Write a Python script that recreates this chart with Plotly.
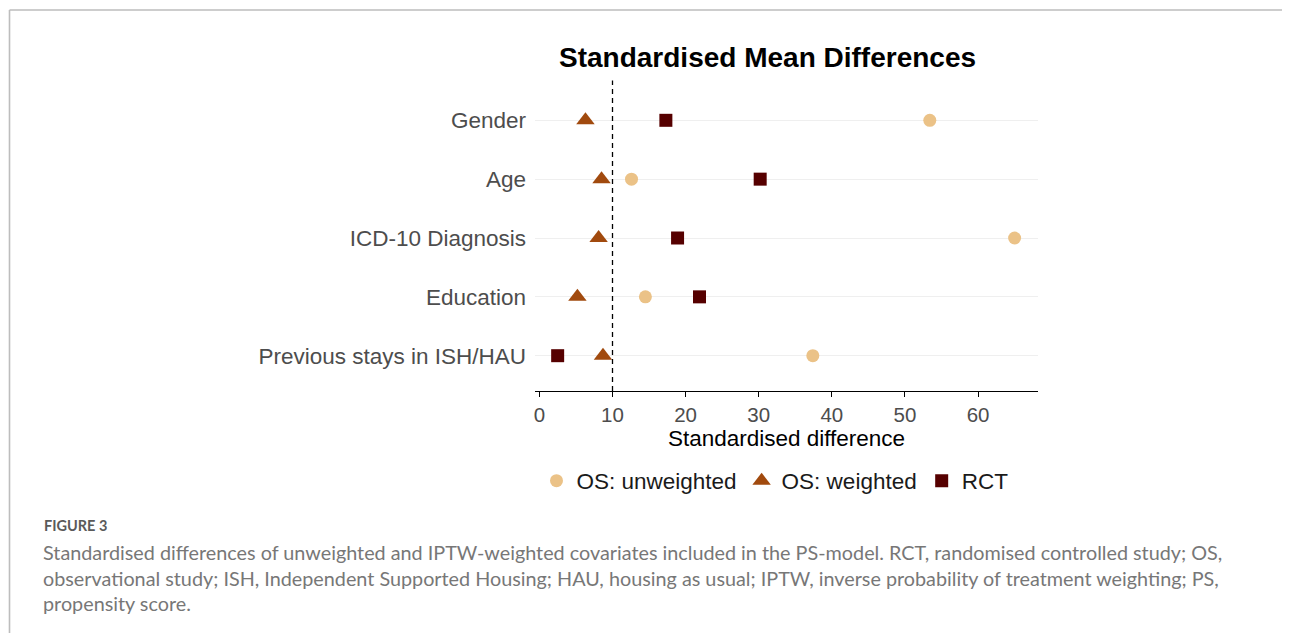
import plotly.graph_objects as go

categories = ["Previous stays in ISH/HAU", "Education", "ICD-10 Diagnosis", "Age", "Gender"]
os_unweighted = [37.4, 14.5, 65.0, 12.6, 53.4]
os_weighted = [8.7, 5.2, 8.1, 8.5, 6.3]
rct = [2.5, 21.9, 18.9, 30.2, 17.3]
x_ticks = [0, 10, 20, 30, 40, 50, 60]

OFF = 8  # page body margin
W, H = 1290 - OFF, 633 - OFF
L, R, T, B = 535, 1038, 85, 391  # plot area in page pixels


def px(x):
    return (x - L) / (R - L)


def py(y):
    return (B - y) / (B - T)


fig = go.Figure()
fig.add_trace(go.Scatter(x=os_unweighted, y=categories, mode="markers", name="OS: unweighted",
                         marker=dict(symbol="circle", size=13, color="#EBC287")))
fig.add_trace(go.Scatter(x=os_weighted, y=categories, mode="markers", name="OS: weighted",
                         marker=dict(symbol="triangle-up", size=16, color="#A14A0E")))
fig.add_trace(go.Scatter(x=rct, y=categories, mode="markers", name="RCT",
                         marker=dict(symbol="square", size=13, color="#560000")))

shapes = [
    dict(type="line", xref="x", yref="paper", x0=10, x1=10, y0=0, y1=1.015,
         line=dict(color="black", width=1.3, dash="5px,4px")),
    dict(type="line", xref="paper", yref="paper", x0=px(9.5), x1=px(1290), y0=py(10), y1=py(10),
         line=dict(color="#bdbdbd", width=1.6)),
    dict(type="line", xref="paper", yref="paper", x0=px(9.5), x1=px(9.5), y0=py(10), y1=py(640),
         line=dict(color="#bdbdbd", width=1.6)),
]

caption = ("Standardised differences of unweighted and IPTW-weighted covariates included in the PS-model. RCT, randomised controlled study; OS,<br>"
           "observational study; ISH, Independent Supported Housing; HAU, housing as usual; IPTW, inverse probability of treatment weighting; PS,<br>"
           "propensity score.")

annotations = [
    dict(text="<b>Standardised Mean Differences</b>", xref="paper", yref="paper",
         x=px(767), y=py(57), xanchor="center", yanchor="middle", showarrow=False,
         font=dict(family="Liberation Sans, Arial", size=28, color="black")),
    dict(text="<b>FIGURE 3</b>", xref="paper", yref="paper",
         x=px(42), y=py(525), xanchor="left", yanchor="middle", showarrow=False,
         font=dict(family="Lato, Open Sans", size=14.5, color="#5a5a5a")),
    dict(text=caption, xref="paper", yref="paper", align="left",
         x=px(41), y=py(538), xanchor="left", yanchor="top", showarrow=False,
         font=dict(family="Lato, Open Sans", size=19.8, color="#777777")),
]

fig.update_layout(
    width=W, height=H,
    margin=dict(l=L - OFF, r=W - (R - OFF), t=T - OFF, b=H - (B - OFF), pad=0),
    plot_bgcolor="white", paper_bgcolor="white",
    showlegend=True,
    legend=dict(orientation="h", x=px(775), y=py(481), xanchor="center", yanchor="middle",
                font=dict(family="Liberation Sans, Arial", size=22.5, color="#1a1a1a"),
                itemsizing="trace", bgcolor="rgba(0,0,0,0)", traceorder="normal"),
    shapes=shapes,
    annotations=annotations,
    font=dict(family="Liberation Sans, Arial"),
)

fig.update_xaxes(range=[-0.6, 68.2], tickvals=x_ticks, showgrid=False, zeroline=False,
                 showline=True, linecolor="black", linewidth=1.3,
                 ticks="outside", ticklen=5, tickcolor="black", tickwidth=1.2,
                 tickfont=dict(size=20.5, color="#4d4d4d", family="Liberation Sans, Arial"),
                 title=dict(text="Standardised difference", standoff=4,
                            font=dict(size=22.5, color="black", family="Liberation Sans, Arial")))
fig.update_yaxes(type="category", categoryorder="array", categoryarray=categories,
                 range=[-0.6, 4.6], showgrid=True, gridcolor="#efefef", gridwidth=1,
                 zeroline=False, showline=False, ticks="", ticklabelstandoff=8,
                 tickfont=dict(size=22.5, color="#4d4d4d", family="Liberation Sans, Arial"))

fig.write_html("out.html")
